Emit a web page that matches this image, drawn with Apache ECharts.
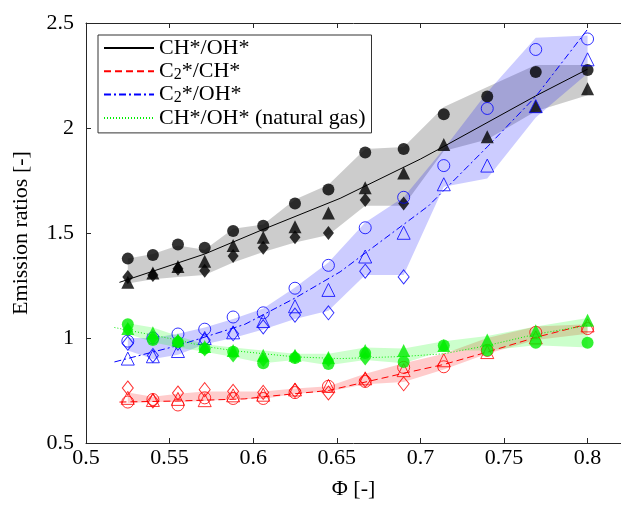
<!DOCTYPE html>
<html>
<head>
<meta charset="utf-8">
<script src="https://cdn.jsdelivr.net/npm/echarts@6/dist/echarts.min.js"></script>
<style>
  html, body { margin: 0; padding: 0; background: #fff; }
  #chart { width: 621px; height: 505px; }
</style>
</head>
<body>
<div id="chart"></div>
<script>
// equivalence ratios of the measured points
var phi = [0.525, 0.54, 0.555, 0.571, 0.588, 0.606, 0.625, 0.645, 0.667, 0.69, 0.714, 0.74, 0.769, 0.8];

// CH*/OH* (black, filled)
var kCircle = [1.378, 1.395, 1.445, 1.43, 1.51, 1.535, 1.64, 1.707, 1.883, 1.90, 2.065, 2.15, 2.267, 2.276];
var kTri    = [1.265, 1.31, 1.34, 1.365, 1.44, 1.48, 1.53, 1.595, 1.715, 1.786, 1.922, 1.958, 2.104, 2.187];
var kDia    = [1.29, 1.30, 1.33, 1.32, 1.39, 1.43, 1.48, 1.50, 1.657, 1.64, null, null, null, null];
var kLo     = [1.26, 1.28, 1.29, 1.30, 1.36, 1.41, 1.455, 1.49, 1.63, 1.63, 1.89, 1.945, 2.08, 2.156];
var kHi     = [1.378, 1.40, 1.44, 1.42, 1.52, 1.54, 1.66, 1.73, 1.90, 1.91, 2.10, 2.195, 2.30, 2.30];
var kFit    = [[0.52, 1.265], [0.571, 1.40], [0.605, 1.514], [0.652, 1.665], [0.70, 1.852], [0.714, 1.912], [0.769, 2.153], [0.8, 2.28]];

// C2*/CH* (red, open)
var rCircle = [0.695, 0.707, 0.681, 0.715, 0.712, 0.712, 0.74, 0.77, 0.793, 0.86, 0.863, 0.941, 1.027, 1.045];
var rTri    = [0.715, 0.705, 0.71, 0.704, 0.727, 0.73, 0.755, 0.772, 0.808, 0.847, 0.894, 0.933, 1.003, 1.06];
var rDia    = [0.762, 0.70, 0.738, 0.754, 0.746, 0.741, 0.75, 0.738, 0.80, 0.782, null, null, null, null];
var rLo     = [0.69, 0.695, 0.695, 0.70, 0.71, 0.71, 0.735, 0.745, 0.78, 0.79, 0.85, 0.925, 0.99, 1.02];
var rHi     = [0.74, 0.72, 0.735, 0.745, 0.745, 0.745, 0.76, 0.77, 0.83, 0.88, 0.925, 1.00, 1.055, 1.065];
var rFit    = [[0.52, 0.695], [0.555, 0.70], [0.595, 0.71], [0.606, 0.72], [0.645, 0.75], [0.69, 0.832], [0.714, 0.874], [0.74, 0.933], [0.769, 1.003], [0.797, 1.06]];

// C2*/OH* (blue, open)
var bCircle = [0.985, 1.0, 1.019, 1.042, 1.10, 1.12, 1.237, 1.346, 1.525, 1.67, 1.821, 2.093, 2.374, 2.424];
var bTri    = [0.902, 0.913, 0.938, 1.0, 1.027, 1.081, 1.151, 1.229, 1.388, 1.501, 1.732, 1.821, 2.104, 2.327];
var bDia    = [0.975, 0.917, 0.975, 0.99, 1.02, 1.053, 1.109, 1.12, 1.318, 1.291, null, null, null, null];
var bLo     = [0.94, 0.90, 0.92, 0.97, 1.00, 1.04, 1.09, 1.13, 1.30, 1.30, 1.72, 1.76, 2.05, 2.26];
var bHi     = [1.00, 1.00, 1.02, 1.05, 1.09, 1.14, 1.24, 1.36, 1.55, 1.67, 1.90, 2.17, 2.43, 2.44];
var bFit    = [[0.517, 0.886], [0.555, 0.964], [0.595, 1.065], [0.625, 1.19], [0.652, 1.315], [0.705, 1.63], [0.74, 1.91], [0.769, 2.15], [0.8, 2.47]];

// CH*/OH* natural gas (green, filled)
var gCircle = [1.065, 0.99, 0.98, 0.95, 0.935, 0.88, 0.905, 0.876, 0.928, 0.886, 0.964, 0.941, 0.977, 0.977];
var gTri    = [1.045, 1.025, 0.99, 0.96, 0.94, 0.918, 0.918, 0.907, 0.941, 0.941, 0.964, 0.991, 1.034, 1.084];
var gDia    = [1.04, 1.0, 0.985, 0.945, 0.917, 0.895, 0.91, 0.895, 0.902, null, null, null, null, null];
var gLo     = [1.02, 0.98, 0.955, 0.935, 0.91, 0.88, 0.895, 0.87, 0.895, 0.88, 0.94, 0.94, 0.965, 0.955];
var gHi     = [1.07, 1.05, 1.01, 0.97, 0.955, 0.94, 0.925, 0.925, 0.955, 0.95, 0.985, 1.01, 1.055, 1.095];
var gFit    = [[0.517, 1.05], [0.555, 0.99], [0.571, 0.96], [0.588, 0.94], [0.625, 0.91], [0.652, 0.902], [0.69, 0.912], [0.714, 0.925], [0.74, 0.964], [0.769, 1.018], [0.8, 1.06]];

var xTicks = [0.5, 0.55, 0.6, 0.65, 0.7, 0.75, 0.8];
var yTicks = [0.5, 1, 1.5, 2, 2.5];

var FONT = 'Liberation Serif';
var FS = 22;
var AXIS = '#262626';

var pairs = function (vals) {
  var out = [];
  for (var i = 0; i < phi.length; i++) {
    if (vals[i] != null) out.push([phi[i], vals[i]]);
  }
  return out;
};

// shaded band between lo and hi, drawn once through the axis scales
var band = function (lo, hi, fill) {
  return {
    type: 'custom',
    silent: true,
    clip: true,
    z: 1,
    data: pairs(lo),
    renderItem: function (params, api) {
      if (params.dataIndex !== 0) return null;
      var pts = [];
      for (var i = 0; i < phi.length; i++) pts.push(api.coord([phi[i], hi[i]]));
      for (var j = phi.length - 1; j >= 0; j--) pts.push(api.coord([phi[j], lo[j]]));
      return { type: 'polygon', shape: { points: pts }, style: { fill: fill } };
    }
  };
};

var fit = function (name, data, color, type) {
  return {
    name: name, type: 'line', data: data, symbol: 'none', z: 2,
    lineStyle: { color: color, width: 1, type: type },
    itemStyle: { color: color },
    silent: true
  };
};

var marks = function (name, vals, symbol, size, color, filled) {
  return {
    name: name, type: 'scatter', data: pairs(vals), symbol: symbol, symbolSize: size, z: 3,
    itemStyle: filled ? { color: color } : { color: 'rgba(0,0,0,0)', borderColor: color, borderWidth: 1 },
    silent: true
  };
};

var BLACK = '#000000', RED = '#ff0000', BLUE = '#0000ff', GREEN = '#00ee00';
var CIRC = 12, TRI = 13, DIA = [11, 14];

var legendNames = ['CH*/OH*', 'C2*/CH*', 'C2*/OH*', 'CH*/OH* (natural gas)'];

var chart = echarts.init(document.getElementById('chart'));
chart.setOption({
  animation: false,
  backgroundColor: '#ffffff',
  grid: { left: 86, top: 23, right: 0, bottom: 54 },
  legend: {
    data: legendNames,
    orient: 'vertical',
    left: 98, top: 35,
    padding: [2, 6, 4, 5],
    itemGap: 1.3,
    itemWidth: 50, itemHeight: 14,
    borderColor: '#333', borderWidth: 1,
    backgroundColor: '#fff',
    selectedMode: false,
    itemStyle: { color: 'rgba(0,0,0,0)', borderWidth: 0, opacity: 0 },
    formatter: function (name) {
      if (name === 'C2*/CH*') return '{a|C}{s|2}{a|*/CH*}';
      if (name === 'C2*/OH*') return '{a|C}{s|2}{a|*/OH*}';
      return '{a|' + name + '}';
    },
    textStyle: {
      rich: {
        a: { fontFamily: FONT, fontSize: FS, lineHeight: 22, color: '#000' },
        s: { fontFamily: FONT, fontSize: 16, lineHeight: 10, verticalAlign: 'bottom', color: '#000' }
      }
    }
  },
  xAxis: [{
    type: 'value', min: 0.5, max: 0.82, interval: 0.05,
    name: 'Φ [-]', nameLocation: 'middle', nameGap: 35,
    nameTextStyle: { fontFamily: FONT, fontSize: FS, color: '#000' },
    axisLine: { lineStyle: { color: AXIS, width: 1 } },
    axisTick: { inside: true, length: 5, lineStyle: { color: AXIS } },
    axisLabel: {
      fontFamily: FONT, fontSize: FS, color: '#000', margin: 4, showMaxLabel: false,
      formatter: function (v) { return xTicks.indexOf(Math.round(v * 100) / 100) >= 0 ? String(Math.round(v * 100) / 100) : ''; }
    },
    splitLine: { show: false }
  }, {
    type: 'value', position: 'top', min: 0.5, max: 0.82, interval: 0.05,
    axisLine: { lineStyle: { color: AXIS, width: 1 } },
    axisTick: { inside: true, length: 5, lineStyle: { color: AXIS } },
    axisLabel: { show: false },
    splitLine: { show: false }
  }],
  yAxis: {
    type: 'value', min: 0.5, max: 2.5, interval: 0.5,
    name: 'Emission ratios [-]', nameLocation: 'middle', nameGap: 54,
    nameTextStyle: { fontFamily: FONT, fontSize: FS, color: '#000' },
    axisLine: { show: true, lineStyle: { color: AXIS, width: 1 } },
    axisTick: { show: true, inside: true, length: 5, lineStyle: { color: AXIS } },
    axisLabel: {
      fontFamily: FONT, fontSize: FS, color: '#000', margin: 12,
      formatter: function (v) { return yTicks.indexOf(v) >= 0 ? String(v) : ''; }
    },
    splitLine: { show: false }
  },
  series: [
    band(kLo, kHi, 'rgba(0,0,0,0.2)'),
    band(bLo, bHi, 'rgba(0,0,255,0.2)'),
    band(rLo, rHi, 'rgba(255,0,0,0.2)'),
    band(gLo, gHi, 'rgba(0,255,0,0.2)'),

    fit('CH*/OH*', kFit, BLACK, 'solid'),
    fit('C2*/CH*', rFit, RED, [7, 4]),
    fit('C2*/OH*', bFit, BLUE, [7, 3, 2, 3]),
    fit('CH*/OH* (natural gas)', gFit, GREEN, [1, 2]),

    marks('k-circle', kCircle, 'circle', CIRC, BLACK, true),
    marks('k-tri', kTri, 'triangle', TRI, BLACK, true),
    marks('k-dia', kDia, 'diamond', DIA, BLACK, true),

    marks('r-circle', rCircle, 'circle', CIRC, RED, false),
    marks('r-tri', rTri, 'triangle', TRI, RED, false),
    marks('r-dia', rDia, 'diamond', DIA, RED, false),

    marks('b-circle', bCircle, 'circle', CIRC, BLUE, false),
    marks('b-tri', bTri, 'triangle', TRI, BLUE, false),
    marks('b-dia', bDia, 'diamond', DIA, BLUE, false),

    marks('g-circle', gCircle, 'circle', CIRC, GREEN, true),
    marks('g-tri', gTri, 'triangle', TRI, GREEN, true),
    marks('g-dia', gDia, 'diamond', DIA, GREEN, true)
  ]
});
</script>
</body>
</html>
